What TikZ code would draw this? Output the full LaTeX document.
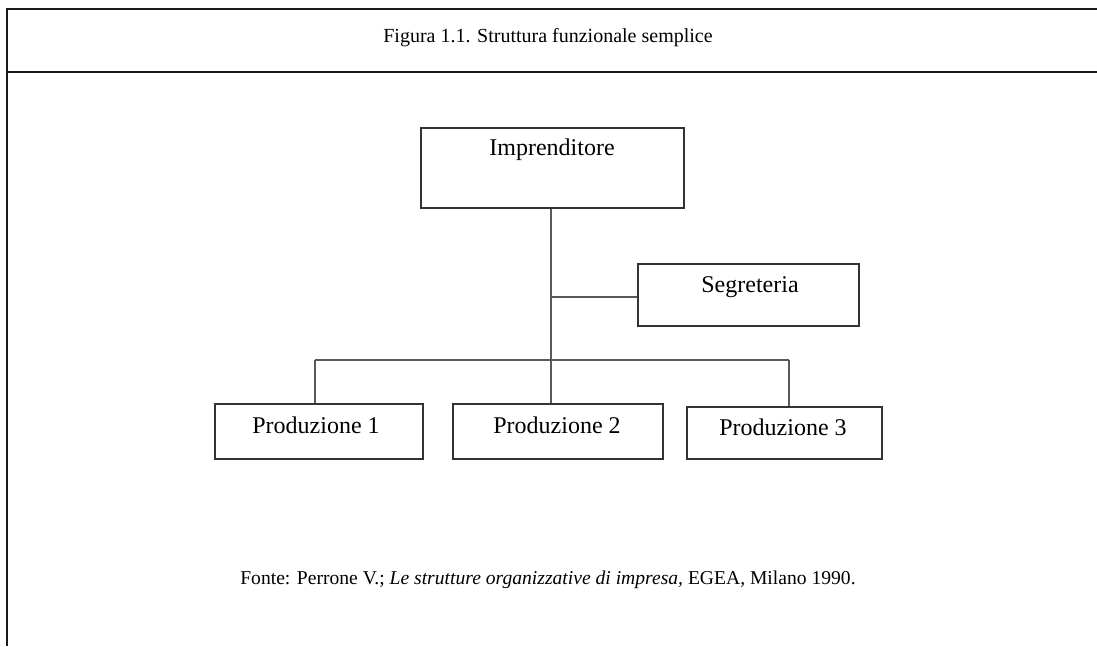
\documentclass[tikz,border=0pt]{standalone}
\usepackage{fontspec}
\setmainfont{Liberation Serif}
\begin{document}
\begin{tikzpicture}[x=1pt,y=-1pt,
  frameline/.style={line width=2pt,draw=black!90},
  orgbox/.style={draw=black!80,line width=1.5pt,rectangle,inner sep=0pt},
  orglink/.style={draw=black!65,line width=1.8pt},
  boxlabel/.style={font=\fontsize{24}{27}\selectfont,inner sep=0pt,anchor=center},
  caption/.style={font=\fontsize{20}{24}\selectfont,inner sep=0pt,anchor=center}]
\useasboundingbox (0,0) rectangle (1097,646);
\fill[white] (0,0) rectangle (1097,646);

% frame and heading rule
\coordinate (ftl) at (6.5,8.5);
\coordinate (ftr) at (1097,8.5);
\coordinate (fbl) at (6.5,646);
\coordinate (hl) at (6.5,72);
\coordinate (hr) at (1097,72);
\draw[frameline] (ftr) -- (ftl) -- (fbl);
\draw[frameline] (hl) -- (hr);
\node[caption] (title) at (548,38) {Figura 1.1. Struttura funzionale semplice};

% boxes
\node[orgbox,minimum width=263pt,minimum height=80pt] (imp) at (552.5,168) {};
\node[orgbox,minimum width=221pt,minimum height=62pt] (seg) at (748.5,295) {};
\node[orgbox,minimum width=208pt,minimum height=55pt,anchor=north west] (p1) at (214,403) {};
\node[orgbox,minimum width=210pt,minimum height=55pt,anchor=north west] (p2) at (452,403) {};
\node[orgbox,minimum width=195pt,minimum height=52pt,anchor=north west] (p3) at (686,406) {};

% box texts
\node[boxlabel] (impt) at (552,150) {Imprenditore};
\node[boxlabel] (segt) at (750,287) {Segreteria};
\node[boxlabel] (p1t) at (316,425) {Produzione 1};
\node[boxlabel] (p2t) at (557,425) {Produzione 2};
\node[boxlabel] (p3t) at (783,427) {Produzione 3};

% connectors
\coordinate (trunk) at (551,297);
\coordinate (busl) at (315,360);
\coordinate (busr) at (789,360);
\draw[orglink] (imp.south -| trunk) -- (p2.north -| trunk);
\draw[orglink] (trunk) -- (trunk -| seg.west);
\draw[orglink] (busl) -- (busr);
\draw[orglink] (busl) -- (p1.north -| busl);
\draw[orglink] (busr) -- (p3.north -| busr);

% source line
\node[caption,font=\fontsize{19.6}{24}\selectfont] (src) at (548,580) {Fonte: Perrone V.; \textit{Le strutture organizzative di impresa,} EGEA, Milano 1990.};
\end{tikzpicture}
\end{document}
